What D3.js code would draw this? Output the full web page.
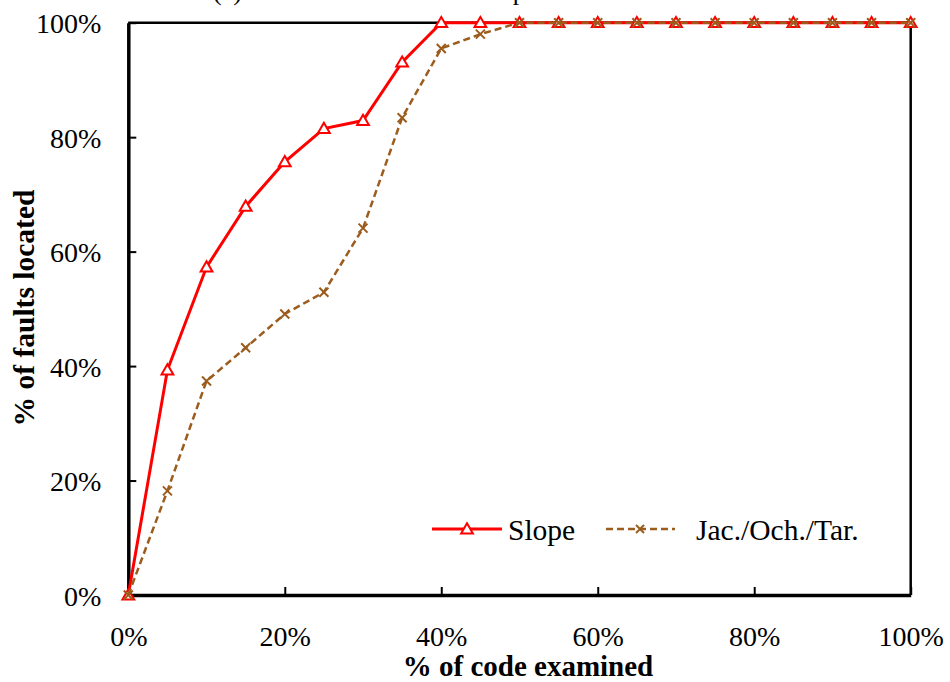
<!DOCTYPE html>
<html>
<head>
<meta charset="utf-8">
<script src="https://cdn.jsdelivr.net/npm/d3@7"></script>
<style>
  html, body { margin: 0; padding: 0; background: #fff; }
  svg { display: block; }
  svg text { font-family: "Liberation Serif", "DejaVu Serif", Times, serif; }
</style>
</head>
<body>
<svg id="chart" width="950" height="682"></svg>
<script>
// Percentage of code examined (x) and faults located (y), in %
const codeExamined = [0, 5, 10, 15, 20, 25, 30, 35, 40, 45, 50, 55, 60, 65, 70, 75, 80, 85, 90, 95, 100];
const slopeValues = [0, 39.3, 57.3, 67.9, 75.7, 81.5, 82.9, 93.1, 100, 100, 100, 100, 100, 100, 100, 100, 100, 100, 100, 100, 100];
const jacValues   = [0, 18.2, 37.4, 43.2, 49.1, 52.9, 64.1, 83.4, 95.5, 98.0, 100, 100, 100, 100, 100, 100, 100, 100, 100, 100, 100];
const xTicks = [0, 20, 40, 60, 80, 100];
const yTicks = [0, 20, 40, 60, 80, 100];
const seriesNames = ["Slope", "Jac./Och./Tar."];

(function () {
const svg = d3.select("#chart");
const plotLeft = 128.3, plotRight = 910.7, plotTop = 22.7, plotBottom = 595;

const x = d3.scaleLinear().domain([0, 100]).range([plotLeft, plotRight]);
const y = d3.scaleLinear().domain([0, 100]).range([plotBottom, plotTop]);

const RED = "#ff0000";
const BROWN = "#9b5c1e";

// Title (sits mostly above the top edge of the page)
svg.append("text")
  .attr("x", 213).attr("y", 0)
  .attr("font-size", 26)
  .text("(a) Results on Siemens and space");

// Frame: top and right borders
svg.append("path")
  .attr("d", `M${plotLeft},${plotTop}H${plotRight}V${plotBottom}`)
  .attr("fill", "none").attr("stroke", "#000").attr("stroke-width", 2.5);

// Axes with inward ticks
const xAxis = d3.axisBottom(x).tickValues(xTicks).tickFormat(d => d + "%")
  .tickSizeInner(-8).tickSizeOuter(0).tickPadding(31);
const yAxis = d3.axisLeft(y).tickValues(yTicks).tickFormat(d => d + "%")
  .tickSizeInner(-8).tickSizeOuter(0).tickPadding(27);

const gx = svg.append("g").attr("transform", `translate(0,${plotBottom})`).call(xAxis);
const gy = svg.append("g").attr("transform", `translate(${plotLeft},0)`).call(yAxis);

[gx, gy].forEach(g => {
  g.attr("font-family", null);
  g.select(".domain").attr("stroke", "#000").attr("stroke-width", 3.5);
  g.selectAll(".tick line").attr("stroke", "#000").attr("stroke-width", 2);
  g.selectAll(".tick text").attr("font-size", 28).attr("fill", "#000");
});
gy.selectAll(".tick text").attr("dy", "0.36em");

// Axis titles
svg.append("text")
  .attr("x", 528).attr("y", 676)
  .attr("text-anchor", "middle")
  .attr("font-size", 29).attr("font-weight", "bold")
  .text("% of code examined");
svg.append("text")
  .attr("transform", "translate(34,308) rotate(-90)")
  .attr("text-anchor", "middle")
  .attr("font-size", 29.5).attr("font-weight", "bold")
  .text("% of faults located");

const line = d3.line().x(d => x(d[0])).y(d => y(d[1]));
const slopeData = codeExamined.map((c, i) => [c, slopeValues[i]]);
const jacData = codeExamined.map((c, i) => [c, jacValues[i]]);

const triPath = d3.symbol().type(d3.symbolTriangle).size(60)();
function drawCross(g, cx, cy, r) {
  g.append("path")
    .attr("d", `M${cx - r},${cy - r}L${cx + r},${cy + r}M${cx - r},${cy + r}L${cx + r},${cy - r}`)
    .attr("stroke", BROWN).attr("stroke-width", 2).attr("fill", "none");
}

// Slope series
const gs = svg.append("g");
gs.append("path").datum(slopeData).attr("d", line)
  .attr("fill", "none").attr("stroke", RED).attr("stroke-width", 3);
gs.selectAll("path.m").data(slopeData).enter().append("path").attr("class", "m")
  .attr("d", triPath)
  .attr("transform", d => `translate(${x(d[0])},${y(d[1]) + 1})`)
  .attr("fill", "#fff").attr("stroke", RED).attr("stroke-width", 2);

// Jaccard / Ochiai / Tarantula series
const gj = svg.append("g");
gj.append("path").datum(jacData).attr("d", line)
  .attr("fill", "none").attr("stroke", BROWN).attr("stroke-width", 2.5)
  .attr("stroke-dasharray", "7,4");
jacData.forEach(d => drawCross(gj, x(d[0]), y(d[1]), 4.5));

// Legend
const lg = svg.append("g");
lg.append("line").attr("x1", 432).attr("x2", 502).attr("y1", 529).attr("y2", 529)
  .attr("stroke", RED).attr("stroke-width", 3);
lg.append("path").attr("d", triPath).attr("transform", "translate(467,530)")
  .attr("fill", "#fff").attr("stroke", RED).attr("stroke-width", 2);
lg.append("text").attr("x", 508).attr("y", 540)
  .attr("font-size", 29.5).text(seriesNames[0]);
lg.append("line").attr("x1", 606).attr("x2", 675).attr("y1", 529).attr("y2", 529)
  .attr("stroke", BROWN).attr("stroke-width", 2.5).attr("stroke-dasharray", "7,4");
drawCross(lg, 640, 529, 4);
lg.append("text").attr("x", 696).attr("y", 540)
  .attr("font-size", 29.5).text(seriesNames[1]);
})();
</script>
</body>
</html>
